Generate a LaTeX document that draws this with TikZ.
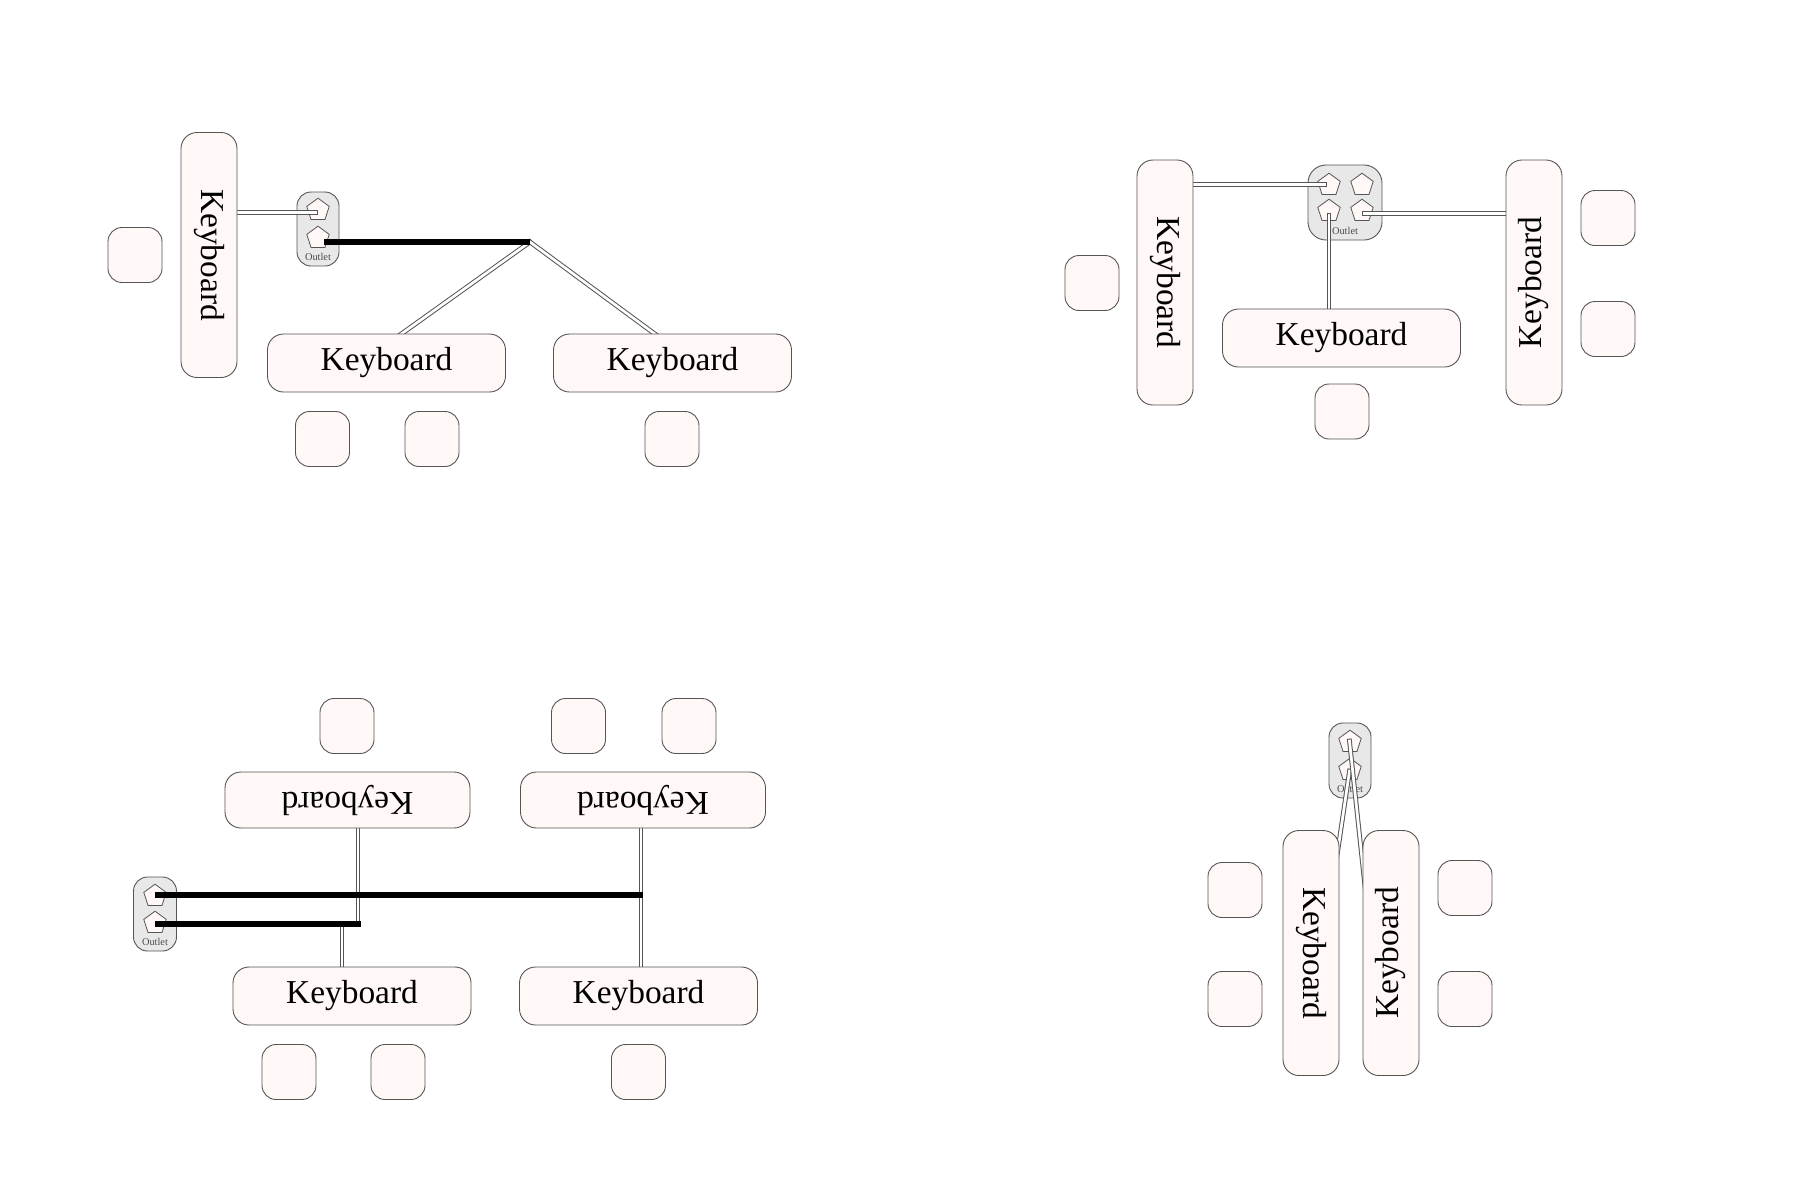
\documentclass[tikz,border=0pt]{standalone}
\usepackage{fontspec}
\setmainfont{Liberation Serif}
\usetikzlibrary{shapes.geometric}
\definecolor{kfill}{HTML}{FFF8F7}
\definecolor{ofill}{HTML}{E8E8E8}
\definecolor{edge}{HTML}{555555}
\pgfdeclarelayer{back}
\pgfdeclarelayer{conn}
\pgfsetlayers{back,conn,main}
\tikzset{
  kb/.style={draw=edge,fill=kfill,line width=0.45pt,rounded corners=8pt,inner sep=0pt,font=\fontsize{16.7}{18}\selectfont},
  kbl/.style={kb,minimum width=122.5pt,minimum height=28pt},
  kbw/.style={kb,minimum width=119pt,minimum height=29pt},
  sq/.style={draw=edge,fill=kfill,line width=0.45pt,rounded corners=7pt,inner sep=0pt,minimum width=27pt,minimum height=27.5pt},
  outlet/.style={draw=edge,fill=ofill,line width=0.45pt,rounded corners=7pt,inner sep=0pt},
  olabel/.style={inner sep=0pt,text=black!70,font=\fontsize{5.2}{6}\selectfont},
  socket/.style={draw=edge,fill=kfill,line width=0.4pt,regular polygon,regular polygon sides=5,inner sep=0pt,minimum size=11.8pt},
  dbl/.style={draw=edge,line width=0.5pt,double=white,double distance=1.35pt,line cap=rect},
  pow/.style={draw=black,line width=2.6pt}
}
\begin{document}
\begin{tikzpicture}[x=0.5pt,y=-0.5pt]
\useasboundingbox (0,0) rectangle (1800,1200);
% ---- top left
\begin{pgfonlayer}{back}
\node[outlet,minimum width=21pt,minimum height=37pt] (oa) at (318,229) {};
\node[olabel] (la) at (318,257) {Outlet};
\node[socket] (pa1) at (318,210) {};
\node[socket] (pa2) at (318,238) {};
\end{pgfonlayer}
\node[kbl,rotate=-90] (kA) at (209,255) {Keyboard};
\node[kbw] (kB) at (386.5,363) {Keyboard};
\node[kbw] (kC) at (672.5,363) {Keyboard};
\coordinate (a1) at (316,212.3);
\coordinate (a2) at (324,242);
\coordinate (aj) at (530,242);
\coordinate (ab) at (397,337);
\coordinate (ac) at (659,337);
\begin{pgfonlayer}{conn}
\draw[dbl] (a1) -- (a1 -| kA.center);
\draw[dbl] (aj) -- (ab);
\draw[dbl] (aj) -- (ac);
\draw[pow] (a2) -- (aj);
\end{pgfonlayer}
\node[sq] (s1) at (135,255) {};
\node[sq] (s2) at (322.5,439) {};
\node[sq] (s3) at (432,439) {};
\node[sq] (s4) at (672,439) {};
% ---- top right
\begin{pgfonlayer}{back}
\node[outlet,minimum width=37pt,minimum height=37.5pt,rounded corners=9pt] (ob) at (1345,202.5) {};
\node[olabel] (lb) at (1345,231) {Outlet};
\node[socket] (pb1) at (1329,185) {};
\node[socket] (pb2) at (1362,185) {};
\node[socket] (pb3) at (1329,211) {};
\node[socket] (pb4) at (1362,211) {};
\end{pgfonlayer}
\node[kbl,rotate=-90] (kD) at (1165,282.5) {Keyboard};
\node[kbw] (kE) at (1341.5,338) {Keyboard};
\node[kbl,rotate=90] (kF) at (1534,282.5) {Keyboard};
\coordinate (b1) at (1325,184.3);
\coordinate (b2) at (1329,215);
\coordinate (b3) at (1364,213.3);
\begin{pgfonlayer}{conn}
\draw[dbl] (b1) -- (b1 -| kD.center);
\draw[dbl] (b2) -- (b2 |- kE.center);
\draw[dbl] (b3) -- (b3 -| kF.center);
\end{pgfonlayer}
\node[sq] (s5) at (1092,283) {};
\node[sq] (s6) at (1342,411.5) {};
\node[sq] (s7) at (1608,218) {};
\node[sq] (s8) at (1608,329) {};
% ---- bottom left
\begin{pgfonlayer}{back}
\node[outlet,minimum width=21.5pt,minimum height=37pt] (oc) at (155,914) {};
\node[olabel] (lc) at (155,942) {Outlet};
\node[socket] (pc1) at (155,896) {};
\node[socket] (pc2) at (155,923) {};
\end{pgfonlayer}
\node[kbl,rotate=180] (kI) at (347.5,800) {Keyboard};
\node[kbl,rotate=180] (kJ) at (643,800) {Keyboard};
\node[kbw] (kG) at (352,996) {Keyboard};
\node[kbw] (kH) at (638.5,996) {Keyboard};
\coordinate (c1) at (155,895);
\coordinate (c2) at (155,924);
\coordinate (cj1) at (361,924);
\coordinate (cj2) at (643,895);
\coordinate (ci) at (358,924);
\coordinate (cg) at (342,924);
\coordinate (cx) at (641,895);
\begin{pgfonlayer}{conn}
\draw[dbl] (ci) -- (ci |- kI.center);
\draw[dbl] (cg) -- (cg |- kG.center);
\draw[dbl] (cx) -- (cx |- kJ.center);
\draw[dbl] (cx) -- (cx |- kH.center);
\draw[pow] (c1) -- (cj2);
\draw[pow] (c2) -- (cj1);
\end{pgfonlayer}
\node[sq] (s9) at (347,726) {};
\node[sq] (s10) at (578.5,726) {};
\node[sq] (s11) at (689,726) {};
\node[sq] (s12) at (289,1072) {};
\node[sq] (s13) at (398,1072) {};
\node[sq] (s14) at (638.5,1072) {};
% ---- bottom right
\begin{pgfonlayer}{back}
\node[outlet,minimum width=21pt,minimum height=37.5pt] (od) at (1350,760.5) {};
\node[olabel] (ld) at (1350,789) {Outlet};
\node[socket] (pd1) at (1350,742) {};
\node[socket] (pd2) at (1350,770) {};
\end{pgfonlayer}
\node[kbl,rotate=-90] (kK) at (1311,953) {Keyboard};
\node[kbl,rotate=90] (kL) at (1391,953) {Keyboard};
\coordinate (d1) at (1349.5,741);
\coordinate (d2) at (1349.5,771);
\coordinate (k1) at (1332,890);
\coordinate (k2) at (1368,915);
\begin{pgfonlayer}{conn}
\draw[dbl] (d2) -- (k1);
\draw[dbl] (d1) -- (k2);
\end{pgfonlayer}
\node[sq] (s15) at (1235,890) {};
\node[sq] (s16) at (1235,999) {};
\node[sq] (s17) at (1465,888) {};
\node[sq] (s18) at (1465,999) {};
\end{tikzpicture}
\end{document}
